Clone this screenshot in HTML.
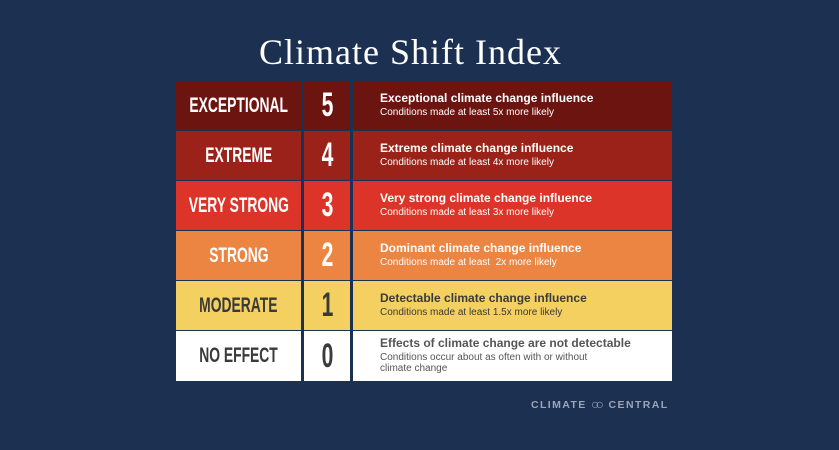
<!DOCTYPE html>
<html><head><meta charset="utf-8"><style>
body{margin:0;width:839px;height:450px;background:#1c3152;overflow:hidden;font-family:"Liberation Sans",sans-serif;position:relative}
.t{position:absolute;top:31px;left:-9px;width:839px;text-align:center;color:#fff;font-family:"Liberation Serif",serif;font-size:36px;letter-spacing:1px}
.tbl{position:absolute;left:176px;top:81px;width:496px}
.r{height:49px;border-bottom:1px solid #1c3152;position:relative}
.r:last-child{border-bottom:none}
.c{position:absolute;top:0;height:100%}
.a{left:0;width:125px;display:flex;align-items:center;justify-content:center}
.a span{display:inline-block;transform:scaleX(0.66);font-weight:bold;font-size:21px;white-space:nowrap}
.b{left:128px;width:46px;display:flex;align-items:center;justify-content:center}
.b span{display:inline-block;transform:scaleX(0.62);font-weight:bold;font-size:34px}
.d{left:177px;right:0;padding-left:27px;box-sizing:border-box}
.h{font-weight:bold;font-size:12px;margin-top:10px}
.s{font-size:10px;margin-top:2px;line-height:11px}
.sep1{position:absolute;left:125px;width:3px;top:0;height:100%;background:#1c3152}
.sep2{position:absolute;left:174px;width:3px;top:0;height:100%;background:#1c3152}
.cc{position:absolute;left:531px;top:395px;color:#9aa5b8;font-size:10.5px;font-weight:bold;letter-spacing:1.4px}
.cc b{font-size:14px;letter-spacing:-4px;position:relative;top:1px}
</style></head><body>
<div class="t">Climate Shift Index</div>
<div class="tbl">
<div class="r" style="background:#6b1410;color:#fff"><div class="c a"><span>EXCEPTIONAL</span></div><div class="c b"><span>5</span></div><div class="c d"><div class="h">Exceptional climate change influence</div><div class="s">Conditions made at least 5x more likely</div></div><div class="sep1"></div><div class="sep2"></div></div>
<div class="r" style="background:#9b2219;color:#fff"><div class="c a"><span>EXTREME</span></div><div class="c b"><span>4</span></div><div class="c d"><div class="h">Extreme climate change influence</div><div class="s">Conditions made at least 4x more likely</div></div><div class="sep1"></div><div class="sep2"></div></div>
<div class="r" style="background:#dc3428;color:#fff"><div class="c a"><span>VERY STRONG</span></div><div class="c b"><span>3</span></div><div class="c d"><div class="h">Very strong climate change influence</div><div class="s">Conditions made at least 3x more likely</div></div><div class="sep1"></div><div class="sep2"></div></div>
<div class="r" style="background:#ec8442;color:#fff"><div class="c a"><span>STRONG</span></div><div class="c b"><span>2</span></div><div class="c d"><div class="h">Dominant climate change influence</div><div class="s">Conditions made at least&nbsp; 2x more likely</div></div><div class="sep1"></div><div class="sep2"></div></div>
<div class="r" style="background:#f4d060;color:#3a3a3a"><div class="c a"><span>MODERATE</span></div><div class="c b"><span>1</span></div><div class="c d"><div class="h">Detectable climate change influence</div><div class="s">Conditions made at least 1.5x more likely</div></div><div class="sep1"></div><div class="sep2"></div></div>
<div class="r" style="background:#fff;color:#3a3a3a;height:50px"><div class="c a"><span>NO EFFECT</span></div><div class="c b"><span>0</span></div><div class="c d" style="color:#555"><div class="h" style="margin-top:5px">Effects of climate change are not detectable</div><div class="s">Conditions occur about as often with or without<br>climate change</div></div><div class="sep1"></div><div class="sep2"></div></div>
</div>
<div class="cc">CLIMATE <b>○○</b>&nbsp; CENTRAL</div>
</body></html>
